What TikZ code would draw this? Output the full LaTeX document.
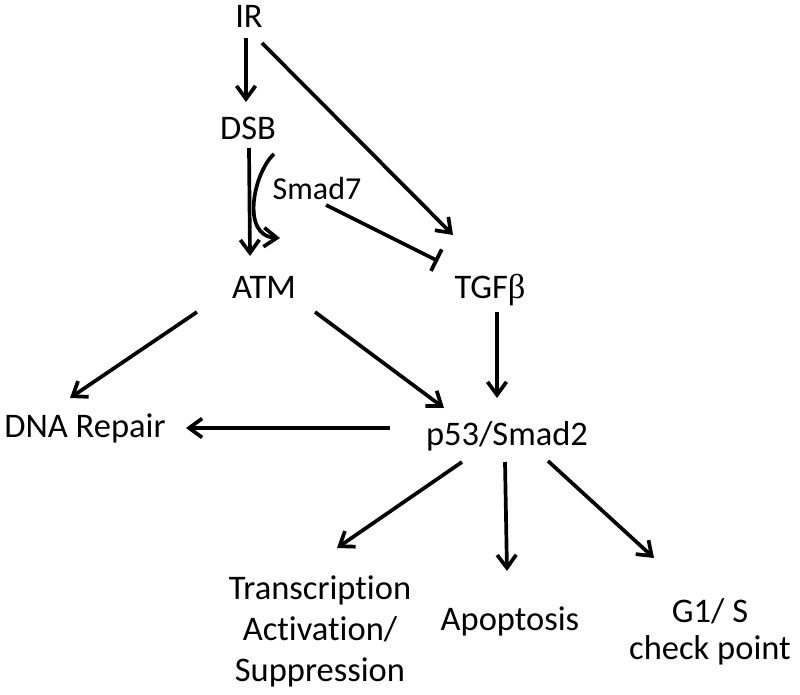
\documentclass[tikz,border=0pt]{standalone}
\usepackage{fontspec}
\setmainfont{Carlito}[Ligatures={NoCommon}]
\newfontfamily\symfont{Liberation Serif}
\usetikzlibrary{arrows.meta}
\begin{document}
\begin{tikzpicture}[x=1pt,y=-1pt,
  lbl/.style={inner sep=0pt,anchor=base,font=\fontsize{34.5}{41}\selectfont},
  arr/.style={line width=3.7pt,-{Straight Barb[length=13pt,width=19pt,line width=3.7pt]}},
  inh/.style={line width=3.7pt,-{Bar[width=24pt,line width=3.7pt]}}]
\useasboundingbox (0,0) rectangle (800,695);
% labels
\node[lbl] (IR) at (249,28) {IR};
\node[lbl] (DSB) at (248,140) {DSB};
\node[lbl,font=\fontsize{32}{38}\selectfont] (Smad7) at (317,200) {Smad7};
\node[lbl] (ATM) at (264,298) {ATM};
\node[lbl] (TGF) at (490,298) {TGF{\symfont β}};
\node[lbl] (DNA) at (85,437) {DNA Repair};
\node[lbl] (P53) at (507,445) {p53/Smad2};
\node[lbl,align=center,anchor=north] (TR) at (320,576) {Transcription\\Activation/\\Suppression};
\node[lbl] (APO) at (510,630) {Apoptosis};
\node[lbl,align=center,anchor=north] (G1) at (710,598) {G1/ S\\[-4pt]check point};
% connector end points
\coordinate (ir-a) at (246,38);  \coordinate (dsb-a) at (246,102);
\coordinate (ir-b) at (262,43);  \coordinate (tgf-a) at (453,235);
\coordinate (dsb-b) at (249,148); \coordinate (atm-a) at (250,256);
\coordinate (sm-c1) at (274,154); \coordinate (sm-c2) at (280,238);
\coordinate (sm-i1) at (326,205); \coordinate (sm-i2) at (438,261);
\coordinate (tgf-b) at (497,312); \coordinate (p53-a) at (497,398);
\coordinate (atm-b) at (197,312); \coordinate (dna-a) at (70,398);
\coordinate (atm-c) at (315,312); \coordinate (p53-b) at (444,408);
\coordinate (p53-c) at (390,428); \coordinate (dna-b) at (186,428);
\coordinate (p53-d) at (462,462); \coordinate (tr-a) at (337,548);
\coordinate (p53-e) at (505,462); \coordinate (apo-a) at (507,571);
\coordinate (p53-f) at (548,461); \coordinate (g1-a) at (654,558);
% connectors
\draw[arr] (ir-a) -- (dsb-a);
\draw[arr] (ir-b) -- (tgf-a);
\draw[arr] (dsb-b) -- (atm-a);
\draw[arr] (sm-c1) .. controls (254,172) and (240,236) .. (sm-c2);
\draw[inh] (sm-i1) -- (sm-i2);
\draw[arr] (tgf-b) -- (p53-a);
\draw[arr] (atm-b) -- (dna-a);
\draw[arr] (atm-c) -- (p53-b);
\draw[arr] (p53-c) -- (dna-b);
\draw[arr] (p53-d) -- (tr-a);
\draw[arr] (p53-e) -- (apo-a);
\draw[arr] (p53-f) -- (g1-a);
\end{tikzpicture}
\end{document}
